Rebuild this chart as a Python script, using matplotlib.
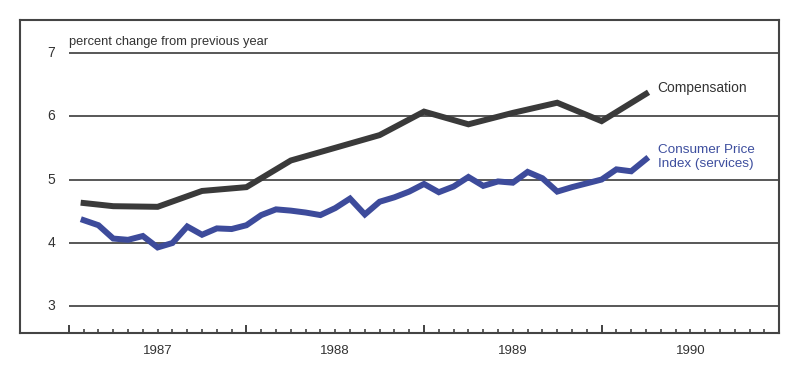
import matplotlib
matplotlib.use("Agg")
import matplotlib.pyplot as plt
import numpy as np

plt.rcParams['font.family'] = ['Liberation Sans', 'DejaVu Sans']

# month index: 1 = end of Jan 1987
cpi_months = list(range(1, 40))
cpi_values = [4.36, 4.28, 4.07, 4.05, 4.11, 3.93, 4.00, 4.26, 4.13, 4.23,
              4.22, 4.28, 4.44, 4.53, 4.51, 4.48, 4.44, 4.55, 4.70, 4.45,
              4.65, 4.72, 4.81, 4.93, 4.80, 4.89, 5.04, 4.90, 4.97, 4.95,
              5.12, 5.02, 4.81, 4.88, 4.94, 5.00, 5.16, 5.13, 5.32]
comp_months = [1, 3, 6, 9, 12, 15, 18, 21, 24, 27, 30, 33, 36, 39]
comp_values = [4.63, 4.58, 4.57, 4.82, 4.88, 5.30, 5.50, 5.70, 6.07, 5.87,
               6.05, 6.21, 5.92, 6.35]
y_ticks = [3, 4, 5, 6, 7]
year_labels = ["1987", "1988", "1989", "1990"]

def mx(m):
    return 1987 + np.asarray(m) / 12.0

fig = plt.figure(figsize=(8.0, 3.72), dpi=100)
ax = fig.add_axes([0.025, 0.105, 0.949, 0.841])

x0, x1 = 1986.725, 1991.0
ax.set_xlim(x0, x1)
ax.set_ylim(2.583, 7.512)

grid_col = "#4a4a4a"
for v in y_ticks:
    ax.plot([1987, 1991], [v, v], color=grid_col, lw=1.3, zorder=1, solid_capstyle='butt')
    ax.text(1986.90, v, str(v), ha='center', va='center', fontsize=10, color='#333333')

ax.plot(mx(comp_months), comp_values, color='#3a3a3a', lw=4.3, zorder=3,
        solid_joinstyle='miter')
ax.plot(mx(cpi_months), cpi_values, color='#3d4b9b', lw=4.3, zorder=3,
        solid_joinstyle='miter')

ax.text(1987.0, 7.17, "percent change from previous year", ha='left', va='center',
        fontsize=9.3, color='#333333')
ax.text(1990.316, 6.44, "Compensation", ha='left', va='center', fontsize=10,
        color='#333333')
ax.text(1990.316, 5.36, "Consumer Price\nIndex (services)", ha='left', va='center',
        fontsize=9.7, color='#3d4e9e', linespacing=1.2)

for s in ax.spines.values():
    s.set_color('#444444')
    s.set_linewidth(1.5)

ax.set_yticks([])
major = [1987, 1988, 1989, 1990]
minor = [1987 + k / 12 for k in range(48) if k % 12 != 0]
ax.set_xticks(major)
ax.set_xticks(minor, minor=True)
ax.set_xticklabels([])
ax.tick_params(axis='x', which='major', direction='in', length=6, width=1.3, color='#333333')
ax.tick_params(axis='x', which='minor', direction='in', length=3, width=1.1, color='#333333')
ax.tick_params(axis='y', left=False)

for i, lab in enumerate(year_labels):
    ax.text(1987.5 + i, -0.058, lab, transform=ax.get_xaxis_transform(),
            ha='center', va='center', fontsize=9.5, color='#333333')

fig.savefig("out.png", dpi=100, facecolor='white')
